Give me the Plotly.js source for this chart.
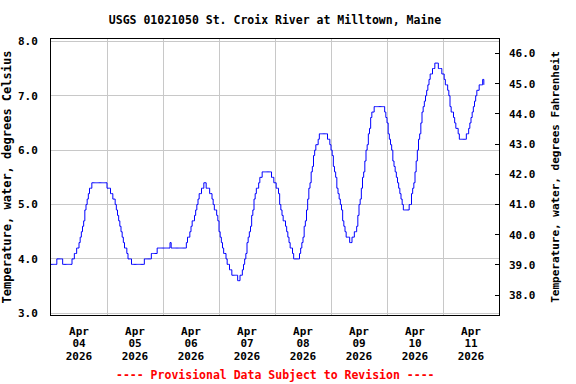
<!DOCTYPE html>
<html>
<head>
<meta charset="utf-8">
<script src="https://cdn.plot.ly/plotly-3.0.1.min.js"></script>
<style>html,body{margin:0;padding:0;background:#fff;}#chart{width:576px;height:384px;}</style>
</head>
<body>
<div id="chart"></div>
<script>
// Water temperature, degrees Celsius, 30-minute readings starting 2026-04-04 00:00
var startTime = '2026-04-04T00:00:00Z';
var stepMinutes = 30;
var day1 = [3.9,3.9,3.9,3.9,3.9, 4.0,4.0,4.0,4.0,4.0, 3.9,3.9,3.9,3.9,3.9,3.9,3.9,3.9, 4.0,4.0,
  4.1,4.1,4.2,4.2,4.3,4.4,4.5,4.6,4.7,4.9,5.0,5.1,5.2,5.3,5.3,5.4,
  5.4,5.4,5.4,5.4,5.4,5.4,5.4,5.4,5.4,5.4,5.4,5.4];
var day2 = [5.3,5.3,5.3,5.2,5.2,5.1,5.1,5.0,4.9,4.8,4.7,4.6,4.5,4.4,4.3,4.2,4.2,4.1,4.0,4.0,4.0,3.9,
  3.9,3.9,3.9,3.9,3.9,3.9,3.9,3.9,3.9,3.9,
  4.0,4.0,4.0,4.0,4.0,4.0, 4.1,4.1,4.1,4.1,4.1, 4.2,4.2,4.2,4.2,4.2];
var day3 = [4.2,4.2,4.2,4.2,4.2,4.2, 4.3, 4.2,
  4.2,4.2,4.2,4.2,4.2,4.2,4.2,4.2,4.2,4.2,4.2,4.2,
  4.3,4.4,4.4,4.5,4.6,4.7,4.7,4.8,4.9,5.0,5.1,5.2,5.2,5.3,5.3,5.4,5.4,5.3,5.3,5.3,5.2,5.2,5.1,5.0,4.9,4.9,4.8,4.7];
var day4 = [4.5,4.4,4.3,4.2,4.1,4.1,4.0,3.9,3.9,3.8,3.8,3.7,3.7,3.7,3.7,3.7,3.6,3.6,3.7,3.7,
  3.8,3.9,4.0,4.1,4.3,4.4,4.5,4.6,4.8,4.9,5.1,5.2,5.3,5.3,5.4,5.5,5.5,5.6,
  5.6,5.6,5.6,5.6,5.6,5.6,5.6, 5.5,5.5,5.4];
var day5 = [5.4,5.3,5.3,5.2,5.0,4.9,4.8,4.7,4.7,4.6,4.5,4.4,4.3,4.2,4.2,4.1,4.0,
  4.0,4.0,4.0,4.0,
  4.1,4.2,4.3,4.4,4.6,4.7,4.9,5.1,5.3,5.4,5.6,5.7,5.9,6.0,6.1,6.1,6.2,6.3,
  6.3,6.3,6.3,6.3,6.3, 6.3,6.2,6.2,6.1];
var day6 = [6.0,5.9,5.7,5.6,5.5,5.3,5.2,5.1,5.0,4.9,4.7,4.6,4.5,4.4,4.4,4.4,4.3,4.3,
  4.4,4.4,4.5,4.5,4.6,4.8,5.0,5.1,5.3,5.5,5.6,5.8,6.0,6.1,6.3,6.4,6.6,6.7,6.7,6.8,
  6.8,6.8,6.8,6.8,6.8,6.8,6.8,6.8, 6.7,6.6];
var day7 = [6.5,6.3,6.2,6.1,6.0,5.8,5.7,5.6,5.5,5.4,5.3,5.2,5.1,5.0,4.9,4.9,4.9,4.9,4.9,5.0,
  5.0,5.2,5.3,5.4,5.6,5.8,6.0,6.2,6.3,6.5,6.7,6.8,6.9,7.0,7.1,7.2,7.3,7.4,7.4,7.5,
  7.5,7.6,7.6,7.6,7.5,7.5,7.5,7.4];
var day8 = [7.4,7.3,7.2,7.2,7.1,7.0,6.8,6.7,6.7,6.6,6.5,6.4,6.4,6.3,
  6.2,6.2,6.2,6.2,6.2,6.2,
  6.3,6.3,6.4,6.5,6.6,6.7,6.8,6.9,7.0,7.1,7.1,7.2,7.2,7.2,7.3,7.2];

// Tick labels
var dayMidnights = ['2026-04-04','2026-04-05','2026-04-06','2026-04-07','2026-04-08','2026-04-09','2026-04-10','2026-04-11','2026-04-12'];
var labelNoons = ['2026-04-04 12:00','2026-04-05 12:00','2026-04-06 12:00','2026-04-07 12:00','2026-04-08 12:00','2026-04-09 12:00','2026-04-10 12:00','2026-04-11 12:00'];
var monthLabels = ['Apr','Apr','Apr','Apr','Apr','Apr','Apr','Apr'];
var dayLabels = ['04','05','06','07','08','09','10','11'];
var yearLabels = ['2026','2026','2026','2026','2026','2026','2026','2026'];
var celsiusTicks = [3,4,5,6,7,8];
var fahrenheitTicks = [38,39,40,41,42,43,44,45,46];

var tempC = [].concat(day1, day2, day3, day4, day5, day6, day7, day8);
function pad(n){ return (n < 10 ? '0' : '') + n; }
var t0 = Date.parse(startTime);
var times = tempC.map(function(v, i){
  var d = new Date(t0 + i * stepMinutes * 60000);
  return d.getUTCFullYear() + '-' + pad(d.getUTCMonth()+1) + '-' + pad(d.getUTCDate()) + ' ' + pad(d.getUTCHours()) + ':' + pad(d.getUTCMinutes());
});

var cMin = 2.969, cMax = 8.043;
function toF(c){ return c * 1.8 + 32; }

var FONT = 'DejaVu Sans Mono, monospace';
var xRange = ['2026-04-04 00:00', '2026-04-12 00:00'];

var traces = [
  {x: times, y: tempC, type: 'scatter', mode: 'lines', line: {color: '#0000ff', width: 1, shape: 'hv'}, hoverinfo: 'skip', xaxis: 'x', yaxis: 'y'},
  {x: [], y: [], type: 'scatter', mode: 'lines', xaxis: 'x2', yaxis: 'y', showlegend: false},
  {x: [], y: [], type: 'scatter', mode: 'lines', xaxis: 'x3', yaxis: 'y', showlegend: false},
  {x: [], y: [], type: 'scatter', mode: 'lines', xaxis: 'x4', yaxis: 'y', showlegend: false},
  {x: [], y: [], type: 'scatter', mode: 'lines', xaxis: 'x', yaxis: 'y2', showlegend: false}
];

var H = 384 - 39 - 10;
var d0 = (374 - 315) / H;
function labelAxis(text, centerY){
  return {
    type: 'date', overlaying: 'x', anchor: 'free', position: (374 - (centerY - 8)) / H,
    range: xRange, tickmode: 'array', tickvals: labelNoons, ticktext: text,
    showgrid: false, showline: false, zeroline: false, ticks: '',
    tickfont: {family: FONT, size: 11, color: '#000', weight: 'bold'}
  };
}

var layout = {
  width: 576, height: 384,
  margin: {l: 51, r: 77, t: 39, b: 10},
  paper_bgcolor: '#ffffff', plot_bgcolor: '#ffffff',
  showlegend: false,
  title: {text: 'USGS 01021050 St. Croix River at Milltown, Maine', x: 0.5, xref: 'paper', y: 1 - 20/384, yref: 'container', yanchor: 'middle',
    font: {family: FONT, size: 11.5, color: '#000', weight: 'bold'}},
  xaxis: {
    type: 'date', range: xRange, tickmode: 'array', tickvals: dayMidnights,
    showticklabels: false, ticks: '', showgrid: true, gridcolor: '#c8c8c8', gridwidth: 1,
    showline: true, mirror: true, linecolor: '#000', linewidth: 1, zeroline: false
  },
  xaxis2: labelAxis(monthLabels, 330.7),
  xaxis3: labelAxis(dayLabels, 343.3),
  xaxis4: labelAxis(yearLabels, 356),
  yaxis: {
    domain: [d0, 1], range: [cMin, cMax], tickmode: 'array', tickvals: celsiusTicks, tickformat: '.1f',
    ticks: '', ticklabelstandoff: 10, showgrid: true, gridcolor: '#c8c8c8', gridwidth: 1,
    showline: true, mirror: true, linecolor: '#000', linewidth: 1, zeroline: false,
    tickfont: {family: FONT, size: 11, color: '#000', weight: 'bold'},
    title: {text: 'Temperature, water, degrees Celsius', standoff: 4, font: {family: FONT, size: 12, color: '#000', weight: 'bold'}}
  },
  yaxis2: {
    domain: [d0, 1], overlaying: 'y', side: 'right', anchor: 'x', range: [toF(cMin), toF(cMax)],
    tickmode: 'array', tickvals: fahrenheitTicks, tickformat: '.1f',
    ticks: 'inside', ticklen: 4, tickcolor: '#000', tickwidth: 1, ticklabelstandoff: 9,
    showgrid: false, showline: false, zeroline: false,
    tickfont: {family: FONT, size: 11, color: '#000', weight: 'bold'},
    title: {text: 'Temperature, water, degrees Fahrenheit', standoff: 16, font: {family: FONT, size: 11, color: '#000', weight: 'bold'}}
  },
  annotations: [{
    text: '---- Provisional Data Subject to Revision ----', xref: 'paper', yref: 'paper', x: 0.5, y: (374 - 375) / H,
    xanchor: 'center', yanchor: 'middle', showarrow: false,
    font: {family: FONT, size: 11.5, color: '#ff0000', weight: 'bold'}
  }]
};

Plotly.newPlot('chart', traces, layout, {staticPlot: true, displayModeBar: false});
</script>
</body>
</html>
